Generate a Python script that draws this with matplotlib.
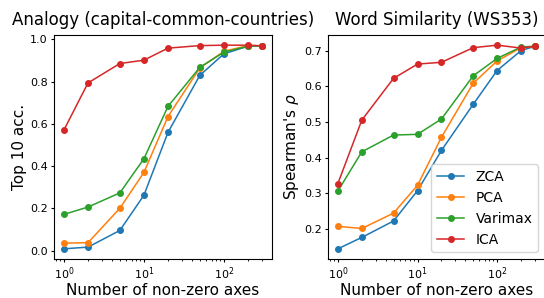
import matplotlib
matplotlib.use('Agg')
import matplotlib.pyplot as plt

# number of non-zero axes
axes_n = [1, 2, 5, 10, 20, 50, 100, 200, 300]
methods = ['ZCA', 'PCA', 'Varimax', 'ICA']
colors = ['#1f77b4', '#ff7f0e', '#2ca02c', '#d62728']

# Analogy (capital-common-countries), top 10 acc.
analogy_zca = [0.008, 0.016, 0.095, 0.262, 0.56, 0.83, 0.932, 0.968, 0.97]
analogy_pca = [0.035, 0.037, 0.20, 0.37, 0.635, 0.865, 0.944, 0.971, 0.97]
analogy_varimax = [0.171, 0.206, 0.273, 0.435, 0.683, 0.868, 0.94, 0.968, 0.97]
analogy_ica = [0.571, 0.794, 0.886, 0.902, 0.959, 0.971, 0.973, 0.973, 0.97]

# Word similarity (WS353), Spearman's rho
ws_zca = [0.144, 0.176, 0.222, 0.307, 0.42, 0.549, 0.644, 0.70, 0.712]
ws_pca = [0.207, 0.201, 0.244, 0.322, 0.457, 0.608, 0.671, 0.708, 0.712]
ws_varimax = [0.306, 0.416, 0.463, 0.465, 0.508, 0.629, 0.678, 0.71, 0.712]
ws_ica = [0.327, 0.505, 0.622, 0.662, 0.667, 0.708, 0.715, 0.707, 0.712]

fig = plt.figure(figsize=(5.44, 2.98), dpi=100)
ax1 = fig.add_axes([54 / 544, 1 - 259 / 298, 218 / 544, 224 / 298])
ax2 = fig.add_axes([328 / 544, 1 - 259 / 298, 217 / 544, 224 / 298])

for ys, name, c in zip([analogy_zca, analogy_pca, analogy_varimax, analogy_ica], methods, colors):
    ax1.plot(axes_n, ys, marker='o', markersize=4, linewidth=1.1, color=c, label=name)
for ys, name, c in zip([ws_zca, ws_pca, ws_varimax, ws_ica], methods, colors):
    ax2.plot(axes_n, ys, marker='o', markersize=4, linewidth=1.1, color=c, label=name)

for ax in (ax1, ax2):
    ax.set_xscale('log')
    ax.set_xlabel('Number of non-zero axes', fontsize=11, labelpad=1)
    ax.tick_params(labelsize=8, length=2.5, pad=2)
    ax.tick_params(which='minor', length=1.5)

ax1.set_title('Analogy (capital-common-countries)', fontsize=12, pad=7)
ax1.set_ylabel('Top 10 acc.', fontsize=11, labelpad=2)
ax1.set_yticks([0.0, 0.2, 0.4, 0.6, 0.8, 1.0])

ax2.set_title('Word Similarity (WS353)', fontsize=12, pad=7)
ax2.set_ylabel("Spearman's $\\rho$", fontsize=11, labelpad=2)
ax2.legend(loc='lower right', fontsize=10)

fig.savefig('out.png', dpi=100)
